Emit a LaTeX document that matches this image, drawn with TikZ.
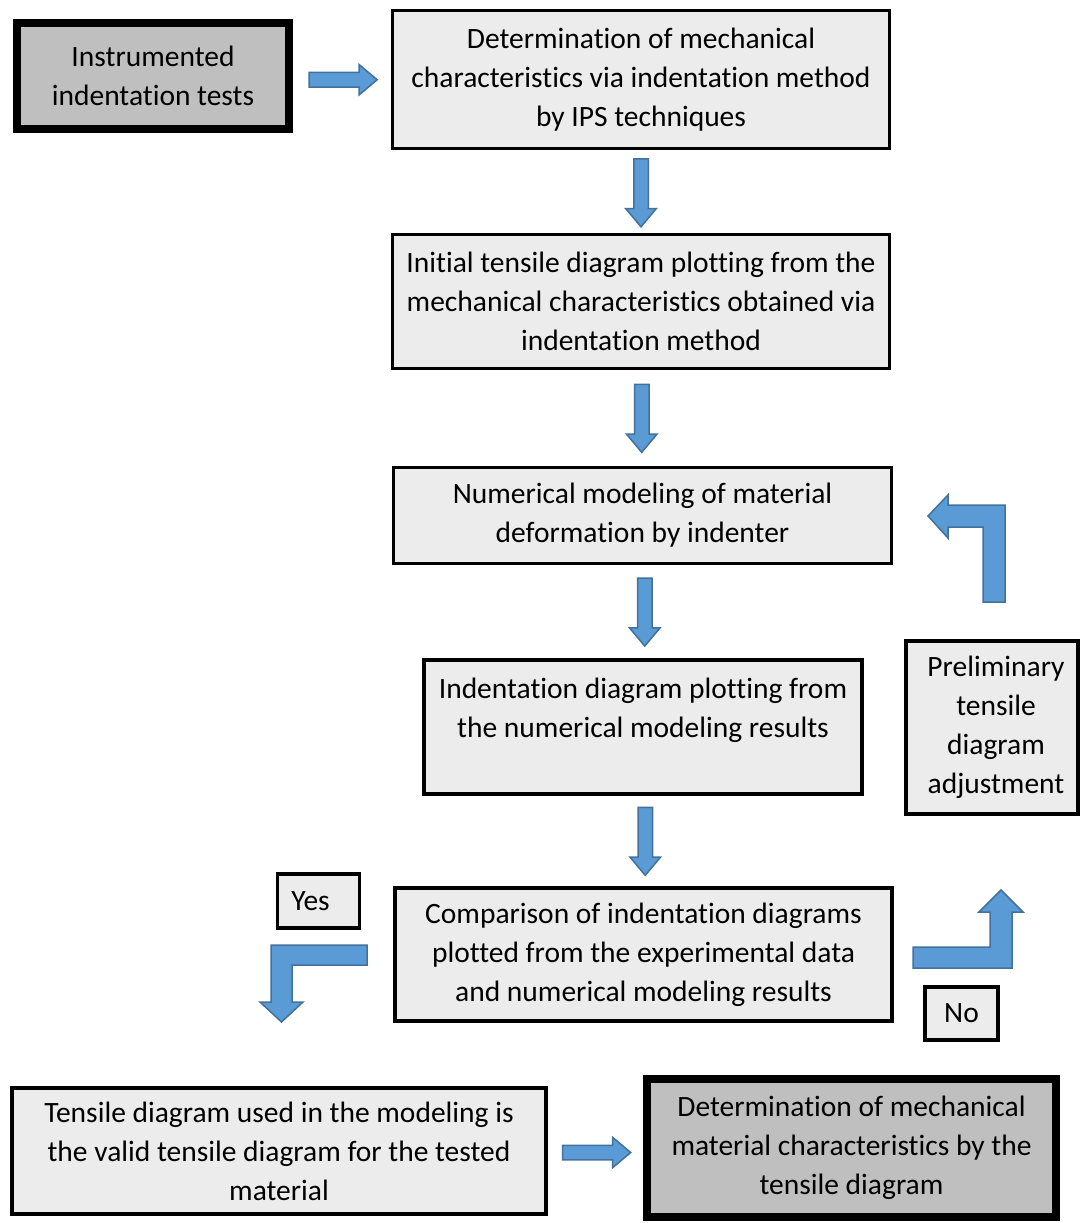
\documentclass[tikz,border=0pt]{standalone}
\usepackage{fontspec}
\setmainfont{Carlito}[Ligatures=NoCommon]
\usetikzlibrary{shapes.arrows,calc}
\definecolor{boxlight}{HTML}{ECECEC}
\definecolor{boxdark}{HTML}{BFBFBF}
\definecolor{arrowfill}{HTML}{5B9BD5}
\definecolor{arrowline}{HTML}{41719C}

\begin{document}
\begin{tikzpicture}[x=1pt,y=-1pt,
    box/.style={draw=black, line width=3.5pt, fill=boxlight, align=center, inner sep=0pt,
                font=\fontsize{29.5}{39}\selectfont},
    keybox/.style={box, line width=8pt, fill=boxdark},
    flowarrow/.style={single arrow, draw=arrowline, fill=arrowfill, line width=1.5pt, inner sep=6.5pt,
                minimum height=68pt, minimum width=29pt, single arrow head extend=8pt,
                single arrow tip angle=80, single arrow head indent=0pt},
    bentarrow/.style={draw=arrowline, fill=arrowfill, line width=1.5pt, line join=miter}]
    \useasboundingbox (0,0) rectangle (1081,1223);

    \node[keybox, minimum width=272pt, minimum height=106pt] (tests) at (153,76) {Instrumented\\indentation tests};
    \node[box, minimum width=497pt, minimum height=138pt] (ips) at (641,79.5)
        {Determination of mechanical\\characteristics via indentation method\\by IPS techniques};
    \node[box, minimum width=497pt, minimum height=134pt] (initial) at (641,301.5)
        {Initial tensile diagram plotting from the\\mechanical characteristics obtained via\\indentation method};
    \node[box, minimum width=498pt, minimum height=96pt] (model) at (642.5,515.5)
        {Numerical modeling of material\\deformation by indenter};
    \node[box, minimum width=438pt, minimum height=134pt] (plot) at (643,727)
        {Indentation diagram plotting from\\the numerical modeling results\\ \mbox{}};
    \node[box, minimum width=172pt, minimum height=173pt] (adjust) at (992,727.5)
        {\hspace*{8pt}Preliminary\\\hspace*{8pt}tensile\\\hspace*{8pt}diagram\\\hspace*{8pt}adjustment};
    \node[box, minimum width=497pt, minimum height=133pt] (compare) at (643.5,954.5)
        {Comparison of indentation diagrams\\plotted from the experimental data\\and numerical modeling results};
    \node[box, minimum width=82pt, minimum height=54pt] (yes) at (318.5,901) {Yes\hspace*{16pt}};
    \node[box, minimum width=73pt, minimum height=53pt] (no) at (961.5,1013.5) {No};
    \node[box, minimum width=534pt, minimum height=126pt] (valid) at (279,1151)
        {Tensile diagram used in the modeling is\\the valid tensile diagram for the tested\\material};
    \node[keybox, minimum width=409pt, minimum height=138pt] (result) at (851.5,1148)
        {Determination of mechanical\\material characteristics by the\\tensile diagram};

    \node[flowarrow] (a1) at ($(tests.east)!.5!(ips.west)+(-3,2)$) {};
    \node[flowarrow, shape border rotate=270] (a2) at ($(ips.south)!.5!(initial.north)+(0,-3)$) {};
    \node[flowarrow, shape border rotate=270] (a3) at ($(initial.south)!.5!(model.north)+(0,-4)$) {};
    \node[flowarrow, shape border rotate=270] (a4) at ($(model.south)!.5!(plot.north)+(2,-4)$) {};
    \node[flowarrow, shape border rotate=270] (a5) at ($(plot.south)!.5!(compare.north)+(2,-4)$) {};
    \node[flowarrow] (a6) at ($(valid.east)!.5!(result.west)+(-3,3)$) {};

    \draw[bentarrow] (983,602) -- (1005,602) -- (1005,505) -- (948,505) -- (948,495) -- (928,516)
        -- (948,538) -- (948,527) -- (983,527) -- cycle;
    \draw[bentarrow] (367,945) -- (367,965) -- (292,965) -- (292,1002) -- (303,1002) -- (281.5,1022)
        -- (260,1002) -- (271,1002) -- (271,945) -- cycle;
    \draw[bentarrow] (913,947) -- (990,947) -- (990,912) -- (979,912) -- (1001,890) -- (1023,912)
        -- (1012,912) -- (1012,968) -- (913,968) -- cycle;

\end{tikzpicture}
\end{document}
